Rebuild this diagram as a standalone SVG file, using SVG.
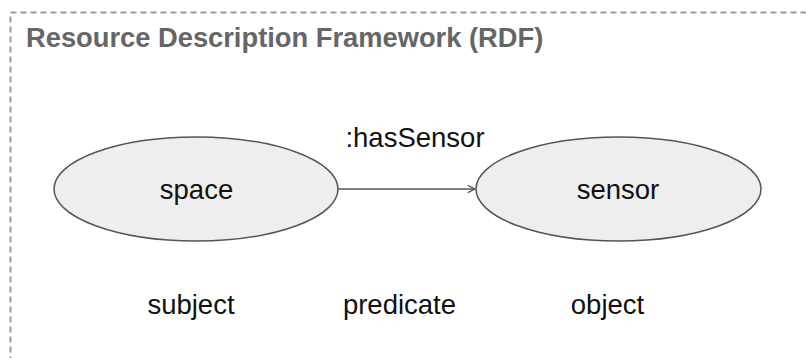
<svg xmlns="http://www.w3.org/2000/svg" width="806" height="358" viewBox="0 0 806 358">
  <style>
    .frame { fill: none; stroke: #999999; stroke-width: 2; stroke-dasharray: 6 4; }
    .title { font-family: "Liberation Sans", Arial, sans-serif; font-size: 27.3px; font-weight: bold; fill: #666666; }
    .node ellipse { fill: #eeeeee; stroke: #555555; stroke-width: 1.5; }
    .label { font-family: "Liberation Sans", Arial, sans-serif; font-size: 27.5px; fill: #111111; text-anchor: middle; }
    .edge { stroke: #555555; stroke-width: 1.5; fill: none; }
  </style>
  <defs>
    <marker id="arrow" viewBox="0 0 10 10" refX="9" refY="5" markerWidth="9" markerHeight="9" markerUnits="userSpaceOnUse" orient="auto">
      <path d="M1,1 L9,5 L1,9" fill="none" stroke="#555555" stroke-width="1.5"/>
    </marker>
  </defs>

  <rect class="frame" x="10.5" y="12.5" width="820" height="360"/>
  <text class="title" x="26" y="47">Resource Description Framework (RDF)</text>

  <g id="connectors">
    <line class="edge" x1="338" y1="189" x2="475" y2="189" marker-end="url(#arrow)"/>
    <text class="label" x="415" y="147">:hasSensor</text>
  </g>

  <g id="space" class="node">
    <ellipse cx="196" cy="189" rx="142" ry="52"/>
    <text class="label" x="196.5" y="199">space</text>
  </g>

  <g id="sensor" class="node">
    <ellipse cx="618.5" cy="189" rx="142.5" ry="52"/>
    <text class="label" x="618" y="199">sensor</text>
  </g>

  <g id="roles">
    <text class="label" x="191" y="314">subject</text>
    <text class="label" x="399.5" y="314">predicate</text>
    <text class="label" x="607.5" y="314">object</text>
  </g>
</svg>
